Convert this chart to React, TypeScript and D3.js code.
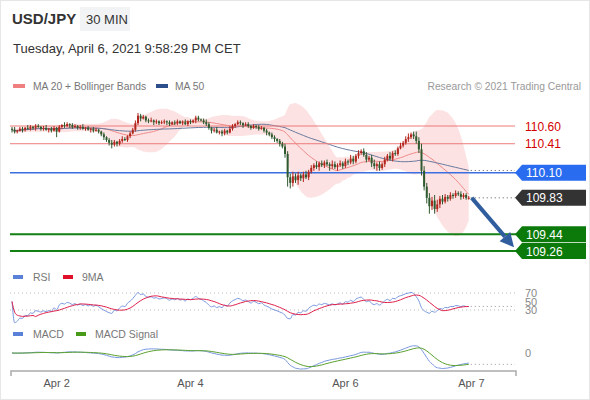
import React from "react";
import * as d3 from "d3";

// ---- data ----
const closes: number[] = [
  110.56, 110.54, 110.55, 110.57, 110.56, 110.58, 110.57, 110.59, 110.58, 110.60,
  110.59, 110.57, 110.58, 110.56, 110.57, 110.55, 110.58, 110.54, 110.59, 110.61,
  110.60, 110.62, 110.61, 110.59, 110.60, 110.58, 110.59, 110.57, 110.58, 110.56,
  110.57, 110.55, 110.56, 110.54, 110.51, 110.48, 110.45, 110.42, 110.40, 110.43,
  110.41, 110.44, 110.46, 110.45, 110.49, 110.52, 110.56, 110.63, 110.71, 110.68,
  110.70, 110.66, 110.65, 110.66, 110.64, 110.65, 110.63, 110.64, 110.65, 110.64,
  110.62, 110.64, 110.63, 110.65, 110.63, 110.64, 110.62, 110.65, 110.64, 110.66,
  110.69, 110.67, 110.66, 110.64, 110.62, 110.58, 110.55, 110.56, 110.53, 110.54,
  110.52, 110.55, 110.53, 110.57, 110.60, 110.62, 110.64, 110.63, 110.61, 110.62,
  110.60, 110.58, 110.60, 110.59, 110.57, 110.58, 110.55, 110.53, 110.51, 110.48,
  110.46, 110.44, 110.41, 110.38, 110.30, 110.05, 109.99, 110.06, 110.02, 110.07,
  110.04, 110.08, 110.05, 110.11, 110.15, 110.18, 110.16, 110.20, 110.18, 110.21,
  110.19, 110.17, 110.19, 110.16, 110.18, 110.20, 110.17, 110.22, 110.21, 110.25,
  110.22, 110.28, 110.31, 110.33, 110.29, 110.24, 110.26, 110.20, 110.17, 110.19,
  110.15, 110.19, 110.24, 110.28, 110.25, 110.31, 110.30, 110.36, 110.39, 110.42,
  110.46, 110.48, 110.51, 110.49, 110.44, 110.35, 110.12, 109.95, 109.83, 109.74,
  109.80, 109.71, 109.76, 109.82, 109.79, 109.84, 109.82, 109.86, 109.85, 109.88,
  109.87, 109.84, 109.86, 109.83, 109.83,
];
const firstOpen = 110.57;
// wick lengths in pips above / below the body
const wickUp: number[] = [
  2, 3, 1, 2, 2, 1, 3, 2, 1, 2, 2, 1, 2, 3, 1, 2, 2, 1,
  2, 1, 3, 2, 1, 2, 2, 1, 2, 3, 1, 2, 1, 2, 2, 1,
  1, 2, 1, 2, 3, 2, 1, 2, 3, 2, 1, 2, 2, 3,
  3, 2, 2, 1, 2, 3, 1, 2, 1, 2, 2, 1, 2, 1, 2, 2, 1, 2, 3, 1, 2, 1, 2, 2, 1, 2, 3,
  2, 1, 2, 3, 1, 2, 2, 1, 3, 2, 1, 2, 2, 1, 2, 2, 1, 2, 1, 2, 2, 1, 2, 1, 2, 2, 1, 2, 2, 3,
  3, 4, 5, 3, 4, 2, 3, 4, 2, 3, 2, 4, 2, 3, 2, 3, 2, 4, 3, 2, 3, 2, 3, 2, 4, 3, 2, 3, 2, 3,
  3, 2, 3, 4, 2, 3, 2, 3, 2, 4, 2, 3, 2, 3, 2, 3, 4, 2, 3, 5, 4, 6, 5, 4, 5, 4, 6, 5, 3, 4, 3, 2, 3, 2, 3, 2, 3, 2, 2, 2,
];
const wickDown: number[] = [
  3, 2, 2, 1, 3, 2, 1, 2, 2, 3, 1, 2, 2, 1, 3, 2, 1, 6,
  1, 2, 2, 1, 3, 2, 1, 2, 2, 1, 2, 1, 3, 2, 1, 2,
  2, 3, 2, 3, 4, 2, 3, 2, 2, 1, 2, 2, 1, 2,
  2, 3, 1, 2, 2, 1, 3, 2, 2, 1, 2, 3, 2, 1, 2, 2, 1, 2, 1, 2, 2, 1, 3, 2, 1, 2, 2,
  2, 3, 2, 1, 2, 3, 2, 2, 1, 2, 2, 1, 2, 3, 1, 2, 2, 1, 2, 2, 1, 2, 3, 2, 2, 3, 2, 3, 2, 4,
  10, 6, 4, 3, 5, 3, 4, 2, 3, 2, 3, 2, 4, 2, 3, 2, 5, 3, 2, 4, 2, 3, 2, 3, 2, 3, 2, 3, 2, 2,
  3, 2, 4, 3, 5, 3, 2, 3, 2, 2, 3, 2, 2, 1, 2, 2, 3, 2, 3, 3, 4, 5, 4, 6, 8, 4, 5, 3, 4, 3, 2, 3, 2, 3, 2, 2, 3, 2, 2, 2,
];
const tickLabels = ["Apr 2", "Apr 4", "Apr 6", "Apr 7"];
const tickIndex = [17, 68, 127, 175];
const resistances = [110.6, 110.41];
const pivot = 110.1;
const supports = [109.44, 109.26];
const arrowTarget = 109.3;
const rsiLevels = [70, 50, 30];

// ---- indicators computed from closes ----
function sma(arr: number[], n: number) {
  return arr.map((_, i) => d3.mean(arr.slice(Math.max(0, i - n + 1), i + 1)) as number);
}
function ema(arr: number[], n: number) {
  const k = 2 / (n + 1);
  const out: number[] = [];
  arr.forEach((v, i) => out.push(i === 0 ? v : v * k + out[i - 1] * (1 - k)));
  return out;
}
const ma20 = sma(closes, 20);
const sd20 = closes.map((_, i) => d3.deviation(closes.slice(Math.max(0, i - 19), i + 1)) || 0);
const bbUp = ma20.map((m, i) => m + 2 * sd20[i]);
const bbLo = ma20.map((m, i) => m - 2 * sd20[i]);
const ma50 = sma(closes, 50);
const rsi: number[] = (() => {
  let ag = 0, al = 0;
  const out: number[] = [50];
  for (let i = 1; i < closes.length; i++) {
    const ch = closes[i] - closes[i - 1];
    const g = Math.max(ch, 0), l = Math.max(-ch, 0);
    if (i === 1) { ag = g; al = l; } else { ag = (ag * 13 + g) / 14; al = (al * 13 + l) / 14; }
    out.push(al === 0 ? 70 : 100 - 100 / (1 + ag / al));
  }
  return out;
})();
const rsiMa = sma(rsi, 9);
const ema12 = ema(closes, 12);
const ema26 = ema(closes, 26);
const macd = ema12.map((v, i) => v - ema26[i]);
const signal = ema(macd, 9);

const idx = closes.map((_, i) => i);
const opens = closes.map((_, i) => (i === 0 ? firstOpen : closes[i - 1]));

const FONT = "'Liberation Sans', Arial, sans-serif";

export default function App() {
  const x = d3.scaleLinear().domain([0, 192]).range([12, 516]);
  const y = d3.scaleLinear().domain([109.26, 110.6]).range([251, 126]);
  const yR = d3.scaleLinear().domain([30, 70]).range([310, 293]);
  const yM = d3.scaleLinear().domain([0, 0.1]).range([353, 342]);
  const last = closes.length - 1;

  const band = d3.area<number>().x((i) => x(i)).y0((i) => y(bbLo[i])).y1((i) => y(bbUp[i])).curve(d3.curveMonotoneX);
  const line = (arr: number[], sc: (v: number) => number) =>
    d3.line<number>().x((i) => x(i)).y((i) => sc(arr[i])).curve(d3.curveMonotoneX)(idx) || "";

  const box = (cy: number, fill: string, label: string) => (
    <g key={label}>
      <path d={`M515,${cy} L522,${cy - 8} L586,${cy - 8} L586,${cy + 8} L522,${cy + 8} Z`} fill={fill} />
      <text x={526} y={cy + 4.5} fill="#fff" fontSize={12}>{label}</text>
    </g>
  );

  const ax0 = x(last) + 3, ay0 = y(closes[last]);
  const ax1 = 514, ay1 = y(arrowTarget);
  const ang = Math.atan2(ay1 - ay0, ax1 - ax0);
  const hl = 14, hw = 7;
  const bx = ax1 - hl * Math.cos(ang), by = ay1 - hl * Math.sin(ang);
  const head = `M${ax1},${ay1} L${bx + hw * Math.sin(ang)},${by - hw * Math.cos(ang)} L${bx - hw * Math.sin(ang)},${by + hw * Math.cos(ang)} Z`;

  return (
    <svg width={590} height={400} style={{ position: "absolute", left: 0, top: 0 }} fontFamily={FONT}>
      <rect x={0.5} y={0.5} width={589} height={399} fill="#fff" stroke="#e6e6e6" />
      {/* header */}
      <text x={12} y={24} fontSize={15} fontWeight="bold" fill="#333">USD/JPY</text>
      <rect x={80} y={7} width={50} height={24} fill="#f2f3f5" />
      <text x={86} y={24} fontSize={13} fill="#333">30 MIN</text>
      <text x={13} y={53} fontSize={13} fill="#333">Tuesday, April 6, 2021 9:58:29 PM CET</text>
      {/* legend */}
      <rect x={13} y={84} width={12} height={4} fill="#f08080" />
      <text x={33} y={90} fontSize={10.3} fill="#777">MA 20 + Bollinger Bands</text>
      <rect x={156} y={84} width={12} height={4} fill="#2c4f8c" />
      <text x={175} y={90} fontSize={10.3} fill="#777">MA 50</text>
      <text x={581} y={90} fontSize={10.3} fill="#999" textAnchor="end">Research © 2021 Trading Central</text>

      {/* bollinger */}
      <path d={band(idx) || ""} fill="#fbd6d6" opacity={0.7} />
      <path d={line(ma20, y)} fill="none" stroke="#f08a8a" strokeWidth={1} />
      <path d={line(ma50, y)} fill="none" stroke="#6a7a9e" strokeWidth={1} />

      {/* levels */}
      {resistances.map((r) => (
        <g key={r}>
          <line x1={10} x2={515} y1={y(r)} y2={y(r)} stroke="#ee7b7b" strokeWidth={1} />
          <text x={525} y={y(r) + 4.5} fontSize={12} fill="#d40000">{r.toFixed(2)}</text>
        </g>
      ))}
      <line x1={10} x2={516} y1={y(pivot)} y2={y(pivot)} stroke="#3b6fe0" strokeWidth={1.5} />
      {supports.map((s) => (
        <line key={s} x1={10} x2={516} y1={y(s)} y2={y(s)} stroke="#138013" strokeWidth={2} />
      ))}

      {/* candles */}
      {idx.map((i) => {
        const o = opens[i], c = closes[i];
        const up = c >= o;
        const col = up ? "#b3261e" : "#2f5a2f";
        const top = Math.max(o, c), bot = Math.min(o, c);
        const hi = top + wickUp[i] / 100, lo = bot - wickDown[i] / 100;
        const yt = y(top), yb = y(bot);
        return (
          <g key={i}>
            <line x1={x(i)} x2={x(i)} y1={y(hi)} y2={y(lo)} stroke={col} strokeWidth={1} />
            <rect x={x(i) - 1} y={yt} width={2} height={Math.max(1, yb - yt)} fill={col} />
          </g>
        );
      })}

      {/* extensions */}
      <line x1={x(last) + 2} x2={515} y1={y(ma50[last])} y2={y(ma50[last])} stroke="#555" strokeDasharray="1,3" />
      <line x1={x(last) + 2} x2={515} y1={y(closes[last])} y2={y(closes[last])} stroke="#555" strokeDasharray="1,3" />

      {/* arrow */}
      <line x1={ax0} y1={ay0} x2={bx} y2={by} stroke="#2f5d9e" strokeWidth={4} />
      <path d={head} fill="#2f5d9e" />

      {/* labels */}
      {box(y(pivot), "#2a6cf0", pivot.toFixed(2))}
      {box(y(closes[last]), "#333333", closes[last].toFixed(2))}
      {supports.map((s) => box(y(s), "#0b7a0b", s.toFixed(2)))}

      {/* RSI */}
      <rect x={13} y={275} width={10} height={4} fill="#5b80d8" />
      <text x={33} y={281} fontSize={10.5} fill="#777">RSI</text>
      <rect x={63} y={275} width={10} height={4} fill="#e0102a" />
      <text x={82} y={281} fontSize={10.5} fill="#777">9MA</text>
      {[70, 30].map((l) => (
        <line key={l} x1={10} x2={515} y1={yR(l)} y2={yR(l)} stroke="#bbb" strokeDasharray="1,3" />
      ))}
      <path d={line(rsi, yR)} fill="none" stroke="#7a98e0" strokeWidth={1} />
      <path d={line(rsiMa, yR)} fill="none" stroke="#e0204a" strokeWidth={1} />
      <line x1={x(last) + 2} x2={515} y1={yR(rsiMa[last])} y2={yR(rsiMa[last])} stroke="#999" strokeDasharray="1,3" />
      {rsiLevels.map((l) => (
        <text key={l} x={525} y={yR(l) + 4} fontSize={11} fill="#888">{l}</text>
      ))}

      {/* MACD */}
      <rect x={13} y={332} width={10} height={4} fill="#5b80d8" />
      <text x={33} y={338} fontSize={10.5} fill="#777">MACD</text>
      <rect x={76} y={332} width={10} height={4} fill="#4a9a1a" />
      <text x={95} y={338} fontSize={10.5} fill="#777">MACD Signal</text>
      <path d={line(macd, yM)} fill="none" stroke="#7a98e0" strokeWidth={1} />
      <path d={line(signal, yM)} fill="none" stroke="#5aa02c" strokeWidth={1} />
      <line x1={x(last) + 2} x2={515} y1={yM(signal[last])} y2={yM(signal[last])} stroke="#999" strokeDasharray="1,3" />
      <text x={525} y={yM(0) + 4} fontSize={11} fill="#888">0</text>

      {/* x axis */}
      <path d={`M11,376 V371 H516 V376`} fill="none" stroke="#aaa" strokeWidth={1.5} />
      {tickLabels.map((t, k) => (
        <text key={t} x={x(tickIndex[k])} y={387} fontSize={11} fill="#555" textAnchor="middle">{t}</text>
      ))}
    </svg>
  );
}
